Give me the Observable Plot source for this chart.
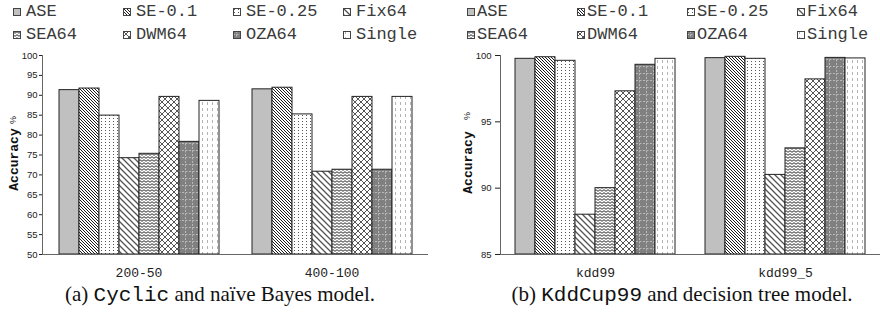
<!DOCTYPE html>
<html><head><meta charset="utf-8">
<script src="https://cdn.jsdelivr.net/npm/d3@7"></script>
<script src="https://cdn.jsdelivr.net/npm/@observablehq/plot@0.6"></script>
<style>
body{margin:0;background:#fff;}
#root{position:relative;width:880px;height:334px;overflow:hidden;}
.item{position:absolute;white-space:nowrap;line-height:20px;font-family:"Liberation Mono",monospace;font-size:17px;color:#3a3a3a;}
.item svg{vertical-align:baseline;}
.cap{position:absolute;top:283px;font-family:"Liberation Serif",serif;font-size:21px;line-height:22px;white-space:nowrap;transform:translateX(-50%);color:#111;}
.cap .mono{font-family:"Liberation Mono",monospace;}
.panel{position:absolute;top:42px;}
</style></head>
<body>
<svg width="0" height="0" style="position:absolute">
<defs>
<pattern id="pat0" patternUnits="userSpaceOnUse" width="4" height="4"><rect width="4" height="4" fill="#c0c0c0"/></pattern>
<pattern id="pat1" patternUnits="userSpaceOnUse" width="3" height="3"><rect width="3" height="3" fill="#fff"/><path d="M0,0L3,3M-1,2L1,4M2,-1L4,1" stroke="#000" stroke-width="0.9"/></pattern>
<pattern id="pat2" patternUnits="userSpaceOnUse" width="4" height="3"><rect width="4" height="3" fill="#fff"/><rect x="1" y="1" width="1" height="1" fill="#555"/></pattern>
<pattern id="pat3" patternUnits="userSpaceOnUse" width="6" height="6"><rect width="6" height="6" fill="#fff"/><path d="M0,0L6,6M-3,3L3,9M3,-3L9,3" stroke="#555" stroke-width="1.3"/></pattern>
<pattern id="pat4" patternUnits="userSpaceOnUse" width="4" height="3"><rect width="4" height="3" fill="#fff"/><path d="M0,0.7L2,2.3L4,0.7" stroke="#111" stroke-width="0.9" fill="none"/></pattern>
<pattern id="pat5" patternUnits="userSpaceOnUse" width="6" height="6"><rect width="6" height="6" fill="#fff"/><path d="M0,0L6,6M6,0L0,6" stroke="#555" stroke-width="1"/></pattern>
<pattern id="pat6" patternUnits="userSpaceOnUse" width="7" height="7"><rect width="7" height="7" fill="#808080"/><path d="M3.5,0V7M0,3.5H7" stroke="#c8c8c8" stroke-width="0.8" stroke-dasharray="2,1.5"/></pattern>
<pattern id="pat7" patternUnits="userSpaceOnUse" width="5" height="6"><rect width="5" height="6" fill="#fff"/><path d="M2.5,0V6" stroke="#aaa" stroke-width="0.9" stroke-dasharray="3,3"/></pattern>
</defs>
</svg>
<div id="root"></div>
<script>
// ---- data ----
const methods = ["ASE", "SE-0.1", "SE-0.25", "Fix64", "SEA64", "DWM64", "OZA64", "Single"];

const groupsA = ["200-50", "400-100"];
const accA_200_50  = [91.3, 91.7, 84.9, 74.2, 75.3, 89.6, 78.3, 88.6];
const accA_400_100 = [91.5, 91.9, 85.2, 70.8, 71.3, 89.6, 71.3, 89.6];
const yDomainA = [50, 100];
const yTicksA = [50, 55, 60, 65, 70, 75, 80, 85, 90, 95, 100];

const groupsB = ["kdd99", "kdd99_5"];
const accB_kdd99   = [99.75, 99.87, 99.6, 88.0, 90.0, 97.3, 99.3, 99.75];
const accB_kdd99_5 = [99.8, 99.9, 99.75, 91.0, 93.0, 98.2, 99.82, 99.78];
const yDomainB = [85, 100];
const yTicksB = [85, 90, 95, 100];

const yLabel = "Accuracy";
const yUnit = "%";
const captionA = ["(a) ", "Cyclic", " and naïve Bayes model."];
const captionB = ["(b) ", "KddCup99", " and decision tree model."];

// ---- drawing ----
const patternUrls = methods.map((m, i) => `url(#pat${i})`);
const root = document.getElementById("root");

function legend(x0, colW, gap) {
  methods.forEach((m, i) => {
    const col = i % 4, row = Math.floor(i / 4);
    const div = document.createElement("div");
    div.className = "item";
    div.style.left = (x0 + col * colW) + "px";
    div.style.top = (2 + row * 23) + "px";
    div.innerHTML = `<svg width="8" height="8" style="margin-right:${gap}px"><rect x="0.5" y="0.5" width="7" height="7" fill="${patternUrls[i]}" stroke="#444"/></svg>`;
    div.appendChild(document.createTextNode(m));
    root.appendChild(div);
  });
}

function caption(parts, cx) {
  const div = document.createElement("div");
  div.className = "cap";
  div.style.left = cx + "px";
  div.appendChild(document.createTextNode(parts[0]));
  const s = document.createElement("span"); s.className = "mono"; s.textContent = parts[1];
  div.appendChild(s);
  div.appendChild(document.createTextNode(parts[2]));
  root.appendChild(div);
}

function panel(groups, series, yDomain, yTicks, o) {
  const data = groups.flatMap((g, gi) => methods.map((m, mi) => ({group: g, method: m, acc: series[gi][mi]})));
  const chart = Plot.plot({
    width: 440, height: 238,
    marginTop: 13, marginBottom: 26, marginLeft: o.marginLeft, marginRight: o.marginRight,
    fx: {domain: groups, padding: 0, label: null},
    x: {domain: methods, paddingInner: 0, paddingOuter: o.xPad, axis: null},
    y: {domain: yDomain, label: null},
    color: {type: "ordinal", domain: methods, range: patternUrls},
    marks: [
      Plot.barY(data, {fx: "group", x: "method", y1: yDomain[0], y2: "acc", fill: "method", stroke: "#222", strokeWidth: 1}),
      Plot.ruleY([yDomain[0]], {stroke: "#666"}),
      Plot.frame({anchor: "left", facetAnchor: "left", stroke: "#666"}),
      Plot.axisY({ticks: yTicks, tickSize: o.tickSize, tickPadding: o.tickPadding, fontFamily: "Liberation Sans", fontSize: 9.5, label: null, color: "#222"}),
      Plot.axisFx({anchor: "bottom", tickSize: 0, tickPadding: 13, fontFamily: "Liberation Mono", fontSize: 13, label: null, color: "#222"}),
      Plot.text([{g: groups[0]}], {fx: "g", frameAnchor: "left", textAnchor: "middle", rotate: -90, dx: o.labelDx, dy: o.labelDy, text: () => yLabel, fontFamily: "Liberation Mono", fontWeight: "bold", fontSize: 13, fill: "#111"}),
      Plot.text([{g: groups[0]}], {fx: "g", frameAnchor: "left", textAnchor: "middle", rotate: -90, dx: o.labelDx, dy: o.unitDy, text: () => yUnit, fontFamily: "Liberation Sans", fontSize: 9, fill: "#111"})
    ]
  });
  const wrap = document.createElement("div");
  wrap.className = "panel";
  wrap.style.left = o.left + "px";
  wrap.appendChild(chart);
  root.appendChild(wrap);
}

legend(13, 110, 5);
legend(467, 110, 2);
panel(groupsA, [accA_200_50, accA_400_100], yDomainA, yTicksA,
  {left: 0, marginLeft: 42, marginRight: 12, xPad: 0.78, tickSize: 3, tickPadding: 2, labelDx: -29, labelDy: 4.5, unitDy: -35});
panel(groupsB, [accB_kdd99, accB_kdd99_5], yDomainB, yTicksB,
  {left: 440, marginLeft: 60, marginRight: 0, xPad: 0.73, tickSize: 5, tickPadding: 4, labelDx: -33, labelDy: 7.5, unitDy: -39});
caption(captionA, 220);
caption(captionB, 682);
</script>
</body></html>
